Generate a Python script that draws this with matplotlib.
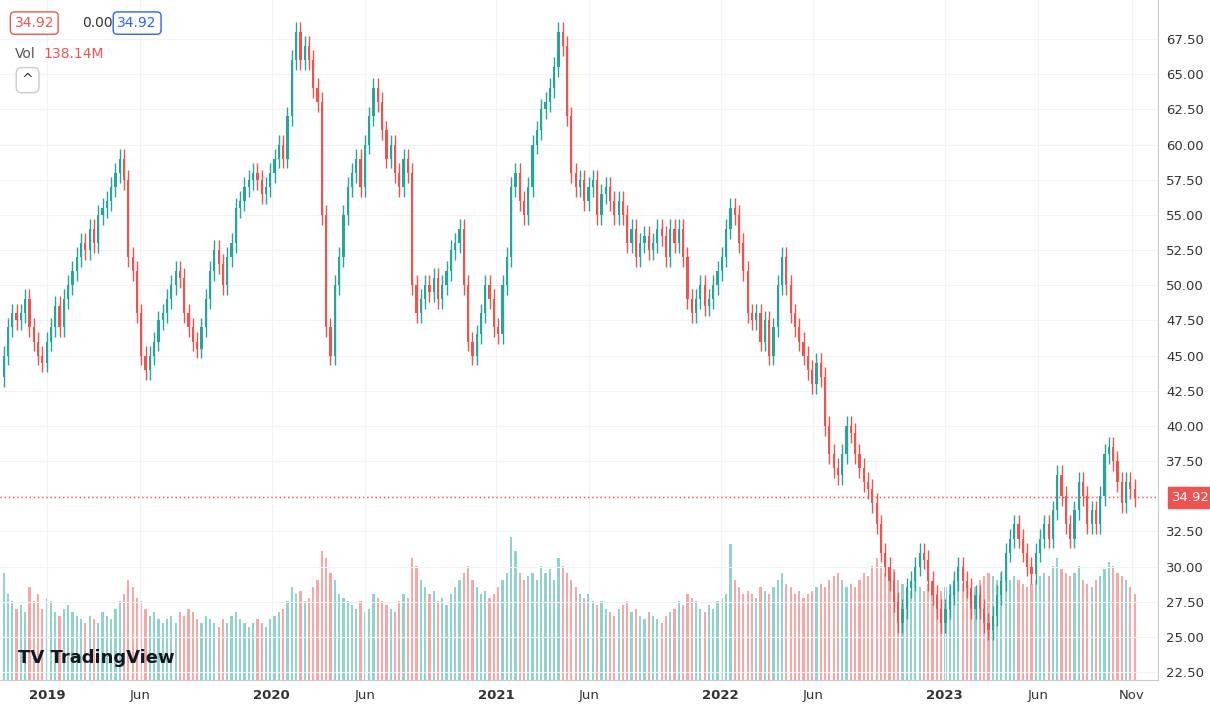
import matplotlib
matplotlib.use("Agg")
import matplotlib.pyplot as plt
import matplotlib.dates as mdates
import numpy as np
import datetime as dt

start_date = dt.date(2018, 10, 22)
closes = [45,47,48,47.5, 48,49,47,46, 45,44.5,46,
 47,48.5,47,49,50, 51,52,53,52.5, 54,53,55,55.5,56, 57,58,59,57.5,52, 51,48,45,44, 45,46,47.5,48,
 49,50,51,50.5,48, 47,46,45.5,47, 49,51,52.5,51.5, 50,52,53,55.5,56, 57,57.5,58,57.5, 56.5,57,58,59,60,
 59,62,66,68,66, 67,66,64,63, 55,47,45,50,52, 55,57,58,59, 57,60,62,64,63, 61,59,60,58, 57,59,58,50,48,
 49,50,49.5,50.5, 49,50,51,52.5, 53,54,50,46, 45,46.5,48,50, 49,47,46.5,50,52,
 57,58,56,55, 57,60,61,62.5, 63,64,65.5,68, 67,62,58,57,57.5, 56,57,57.5,55, 56.5,57,56,55, 56,55,53,54,52,
 53,53.5,52.5,53, 54,53.5,52,54, 53,54,52,49,48, 49,50,48.5,49, 50,51,52,54,55.5,
 55,53,51,48, 47.5,48,46,47.5, 45,47,50,52,50, 48,47,46,45, 44,43,44.5,43.5, 40,38,37,36.5, 38,40,39.5,38,37,
 36,35.5,34.5,33, 31,30,29,27.5, 26,27,28.5,29,30, 31,30.5,29,28, 27,26,27,28,29,
 30,29,28.5,27, 28,27,26,25.5, 26.5,28,29,31,32, 33,32,31,30, 29.5,31,32,33,32, 34,36.5,35,33, 32,34,36,35,33,
 34,33,35,38, 38.5,37.5,36,34.5, 36,35.5,34.92]
volumes = [150,120,110,100, 105,95,130,110, 120,100,115,
 110,95,90,100,105, 95,90,85,80, 90,85,80,95,90, 85,100,110,120,140, 130,115,110,100, 90,95,85,80,
 85,90,80,95,90, 100,95,85,80, 90,85,80,75, 85,80,90,95,85, 80,75,80,85, 80,75,85,90,95,
 100,110,130,120,125, 110,115,130,140, 180,170,150,140,120, 115,110,105,100, 110,95,100,120,115,
 110,105,100,95, 110,120,115,170,160, 140,130,120,125, 110,115,105,120, 130,140,150,160, 140,130,120,125, 115,120,130,140,150,
 200,180,150,140, 145,150,140,160, 150,155,140,170, 160,150,140,130,120, 115,120,110,105, 110,100,95,90, 100,105,110,95,100,
 90,85,95,90, 85,80,90,95, 100,110,105,120,115, 110,100,95,105, 100,110,115,120,190,
 140,130,120,125, 120,115,130,125, 120,130,140,150,135, 130,120,125,115, 120,125,130,135, 130,140,145,150, 140,130,135,130,140,
 150,145,160,170, 160,150,145,155, 140,135,130,125,140, 130,125,135,130, 120,125,130,135,140,
 140,135,130,125, 130,140,145,150, 145,140,150,155,140, 145,140,135,130, 135,140,145,150,145, 160,170,155,150, 145,150,160,140,135,
 130,140,145,155, 165,160,150,145, 140,130,120]
n = min(len(closes), len(volumes))
closes = closes[:n]; volumes = volumes[:n]

UP = "#26a69a"; DN = "#ef5350"
dates = [start_date + dt.timedelta(days=7*i) for i in range(n)]
x = mdates.date2num(dates)
opens = [closes[0] - 1.5] + closes[:-1]

fig = plt.figure(figsize=(12.1, 7.13), dpi=100)
ax = fig.add_axes([0.0, 0.046, 0.957, 0.954])
axv = ax.twinx()
axv.set_zorder(0); ax.set_zorder(1); ax.patch.set_visible(False)

YLO, YHI = 21.93, 70.27
w = 3.6
for xi, o, c, v in zip(x, opens, closes, volumes):
    col = UP if c >= o else DN
    hi = max(o, c) + 0.7; lo = min(o, c) - 0.7
    ax.vlines(xi, lo, hi, color=col, lw=1, zorder=3)
    ax.bar(xi, max(abs(c - o), 0.1), bottom=min(o, c), width=w, color=col, linewidth=0, zorder=3)
    axv.bar(xi, v, width=w, color=col, alpha=0.5, linewidth=0)

ax.set_ylim(YLO, YHI)
axv.set_ylim(0, 950)
axv.set_yticks([])
ax.set_xlim(x[0] - 6, mdates.date2num(dt.date(2023, 12, 14)))
ax.yaxis.tick_right()
yt = np.arange(22.5, 68, 2.5)
ax.set_yticks(yt)
ax.set_yticklabels(["" if abs(v - 35) < 0.01 else f"{v:.2f}" for v in yt], fontsize=9.5, color="#333")
ticks = [dt.date(2019,1,1), dt.date(2019,6,1), dt.date(2020,1,1), dt.date(2020,6,1), dt.date(2021,1,1),
         dt.date(2021,6,1), dt.date(2022,1,1), dt.date(2022,6,1), dt.date(2023,1,1), dt.date(2023,6,1), dt.date(2023,11,1)]
labels = ["2019","Jun","2020","Jun","2021","Jun","2022","Jun","2023","Jun","Nov"]
ax.set_xticks(mdates.date2num(ticks))
ax.set_xticklabels(labels, fontsize=9.5, color="#333")
for l, t in zip(ax.get_xticklabels(), labels):
    if t.isdigit(): l.set_fontweight("bold")
ax.tick_params(length=0, pad=6)
ax.grid(color="#f0f2f5", lw=0.8, zorder=0)
for s in ["top", "left"]:
    ax.spines[s].set_visible(False); axv.spines[s].set_visible(False)
ax.spines["right"].set_color("#ccc"); ax.spines["bottom"].set_color("#ccc")
axv.spines["right"].set_visible(False); axv.spines["bottom"].set_visible(False)

ax.axhline(closes[-1], color=DN, ls=(0, (1, 2)), lw=1)
ax.text(1.012, (closes[-1] - YLO) / (YHI - YLO), f"{closes[-1]:.2f}", transform=ax.transAxes,
        fontsize=9.5, color="white", va="center", ha="left",
        bbox=dict(boxstyle="square,pad=0.3", fc=DN, ec=DN), clip_on=False)

fig.text(0.012, 0.962, "34.92", fontsize=10, color=DN,
         bbox=dict(boxstyle="round,pad=0.3", fc="white", ec=DN))
fig.text(0.068, 0.962, "0.00", fontsize=10, color="#333")
fig.text(0.097, 0.962, "34.92", fontsize=10, color="#2962ff",
         bbox=dict(boxstyle="round,pad=0.3", fc="white", ec="#2962ff"))
fig.text(0.012, 0.918, "Vol", fontsize=10, color="#555")
fig.text(0.036, 0.918, "138.14M", fontsize=10, color=DN)
fig.text(0.018, 0.882, "^", fontsize=10, color="#333",
         bbox=dict(boxstyle="round,pad=0.4", fc="white", ec="#ccc"))
fig.text(0.015, 0.07, "TV TradingView", fontsize=13, fontweight="bold", color="#131722")
fig.savefig("out.png", dpi=100)
